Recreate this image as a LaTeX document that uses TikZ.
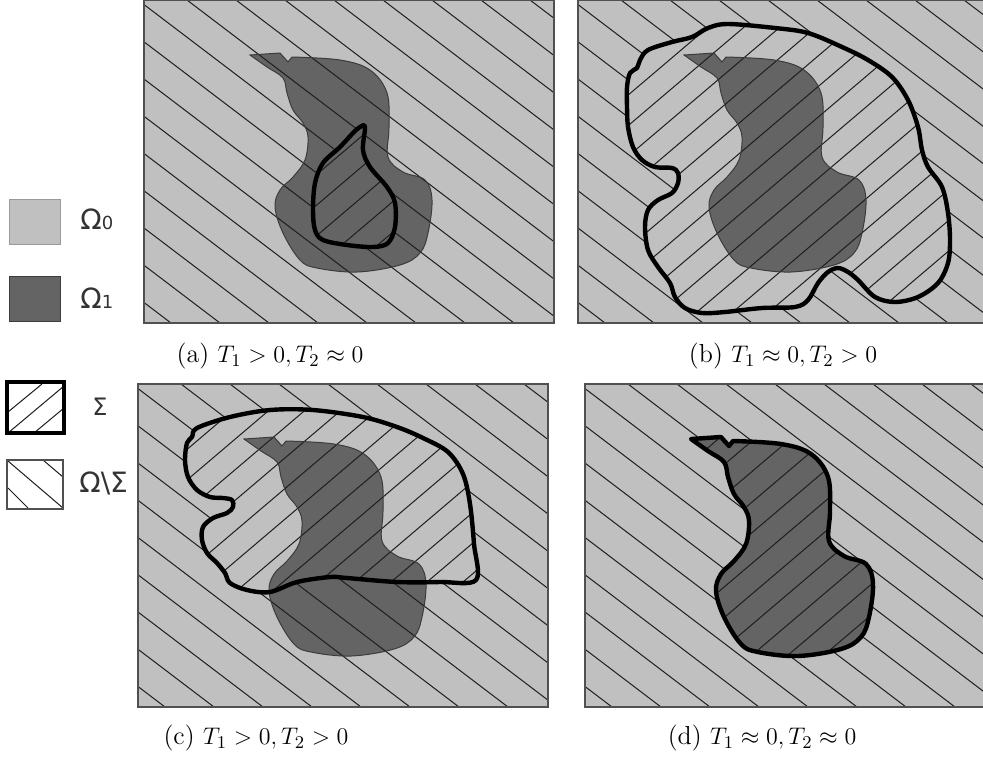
\documentclass[tikz,border=0pt]{standalone}
\usepackage{fontspec}
\newfontfamily\legfont{DejaVu Sans}
\definecolor{lgray}{HTML}{C0C0C0}
\definecolor{dgray}{HTML}{646464}
\definecolor{framegray}{HTML}{505050}
\definecolor{hatchc}{HTML}{1E1E1E}
\definecolor{txtgray}{HTML}{333333}
\definecolor{omedge}{HTML}{3C3C3C}
\tikzset{
  hatchline/.style={draw=hatchc,line width=0.5pt},
  omline/.style={draw=omedge,line width=0.5pt},
  sigline/.style={draw=black,line width=2.2pt,line join=round},
  framebox/.style={draw=framegray,line width=0.7pt},
  legtext/.style={text=txtgray,font=\legfont,inner sep=0pt,anchor=west},
  captext/.style={font=\fontsize{13}{15}\selectfont,inner sep=0pt}
}
\def\OmOne{(106,55) -- (136,53) -- (144,62) -- (148,57) -- plot[smooth,tension=0.6] coordinates {(148,57) (196,60) (226,70) (243,93) (245,127) (244,157) (259,172) (281,180) (288,200) (284,233) (276,253) (256,265) (213,272) (173,268) (156,260) (139,233) (131,207) (136,190) (149,177) (161,160) (164,137) (159,123) (149,110) (143,93) (139,78) (123,67) (106,55)} -- cycle}
\def\SigA{plot[smooth cycle,tension=0.55] coordinates {(216,127) (221,127) (219,150) (226,167) (243,187) (251,203) (251,227) (244,243) (229,247) (203,245) (179,240) (171,230) (169,210) (171,183) (179,163) (196,147) (209,133)}}
\def\SigB{plot[smooth cycle,tension=0.55] coordinates {(150,24) (197,28) (230,33) (264,47) (290,60) (314,77) (330,100) (340,127) (344,150) (350,167) (364,187) (370,213) (372,240) (370,263) (360,283) (340,297) (317,302) (297,297) (280,280) (270,272) (260,268) (250,272) (240,283) (230,300) (217,307) (184,308) (147,312) (124,313) (107,308) (97,297) (92,283) (80,267) (70,250) (67,227) (70,210) (80,200) (94,193) (100,183) (100,173) (94,168) (77,167) (64,160) (55,147) (50,127) (49,107) (49,87) (52,73) (59,68) (62,60) (70,50) (94,42) (114,37) (130,28)}}
\def\SigC{plot[smooth cycle,tension=0.55] coordinates {(59,44) (92,33) (132,26) (175,26) (225,33) (259,43) (285,54) (310,68) (325,90) (332,120) (336,160) (338,196) (302,198) (259,198) (209,194) (192,193) (159,198) (132,208) (109,206) (92,199) (87,189) (79,179) (69,169) (64,156) (65,143) (75,134) (89,129) (95,123) (94,116) (85,114) (72,113) (59,106) (50,93) (47,76) (49,59) (54,53)}}
\newcommand{\mypanel}[3]{%
  \begin{scope}[shift={(#1,#2)}]
    \begin{scope}
      \clip (0,0) rectangle (410,323);
      \fill[lgray] (0,0) rectangle (410,323);
      \fill[dgray] \OmOne;
      \foreach \k in {-7,...,11} \draw[hatchline] ({321+49*\k-450},-19) -- ({321+49*\k+450},665);
      \begin{scope}
        \clip #3;
        \fill[lgray] (0,0) rectangle (410,323);
        \fill[dgray] \OmOne;
        \foreach \k in {-14,...,9} \draw[hatchline] ({173+36*\k-400},606) -- ({173+36*\k+400},-74);
      \end{scope}
      \draw[omline] \OmOne;
      \draw[sigline] #3;
    \end{scope}
    \draw[framebox] (0,0) rectangle (410,323);
  \end{scope}}
\begin{document}
\begin{tikzpicture}[x=0.5pt,y=-0.5pt]
\useasboundingbox (0,0) rectangle (983,762);
\clip (0,0) rectangle (983,762);
\fill[white] (0,0) rectangle (983,762);
% panels
\mypanel{144}{0}{\SigA}
\mypanel{578}{0}{\SigB}
\mypanel{138}{384}{\SigC}
\mypanel{585}{384}{\OmOne}
% captions
\node[captext] (capA) at (270,356) {(a) $T_1 > 0, T_2 \approx 0$};
\node[captext] (capB) at (783,356) {(b) $T_1 \approx 0, T_2 > 0$};
\node[captext] (capC) at (256,738) {(c) $T_1 > 0, T_2 > 0$};
\node[captext] (capD) at (762,738) {(d) $T_1 \approx 0, T_2 \approx 0$};
% legend
\draw[fill=lgray,draw=lgray!80!black,line width=0.5pt] (9,199) rectangle (60,244);
\node[legtext] (lgA) at (80,219) {{\fontsize{14}{14}\selectfont Ω}{\fontsize{9}{9}\selectfont 0}};
\draw[fill=dgray,draw=omedge,line width=0.5pt] (9,276) rectangle (60,321);
\node[legtext] (lgB) at (80,298) {{\fontsize{14}{14}\selectfont Ω}{\fontsize{9}{9}\selectfont 1}};
\begin{scope}
  \clip (7,382) rectangle (64,433);
  \fill[white] (7,382) rectangle (64,433);
  \draw[hatchline] (8,412) -- (42,384);
  \draw[hatchline] (8,433) -- (64,386);
  \draw[hatchline] (34,433) -- (64,408);
\end{scope}
\draw[draw=black,line width=2pt] (7,382) rectangle (64,433);
\node[legtext] (lgC) at (92,407) {{\fontsize{12}{12}\selectfont Σ}};
\begin{scope}
  \clip (7,460) rectangle (63,509);
  \draw[hatchline] (8,461) -- (63,508);
  \draw[hatchline] (43,460) -- (63,477);
  \draw[hatchline] (8,488) -- (28,508);
\end{scope}
\draw[draw=framegray,line width=0.6pt] (7,460) rectangle (63,509);
\node[legtext] (lgD) at (79,483) {{\fontsize{14}{14}\selectfont Ω\textbackslash Σ}};
\end{tikzpicture}
\end{document}
